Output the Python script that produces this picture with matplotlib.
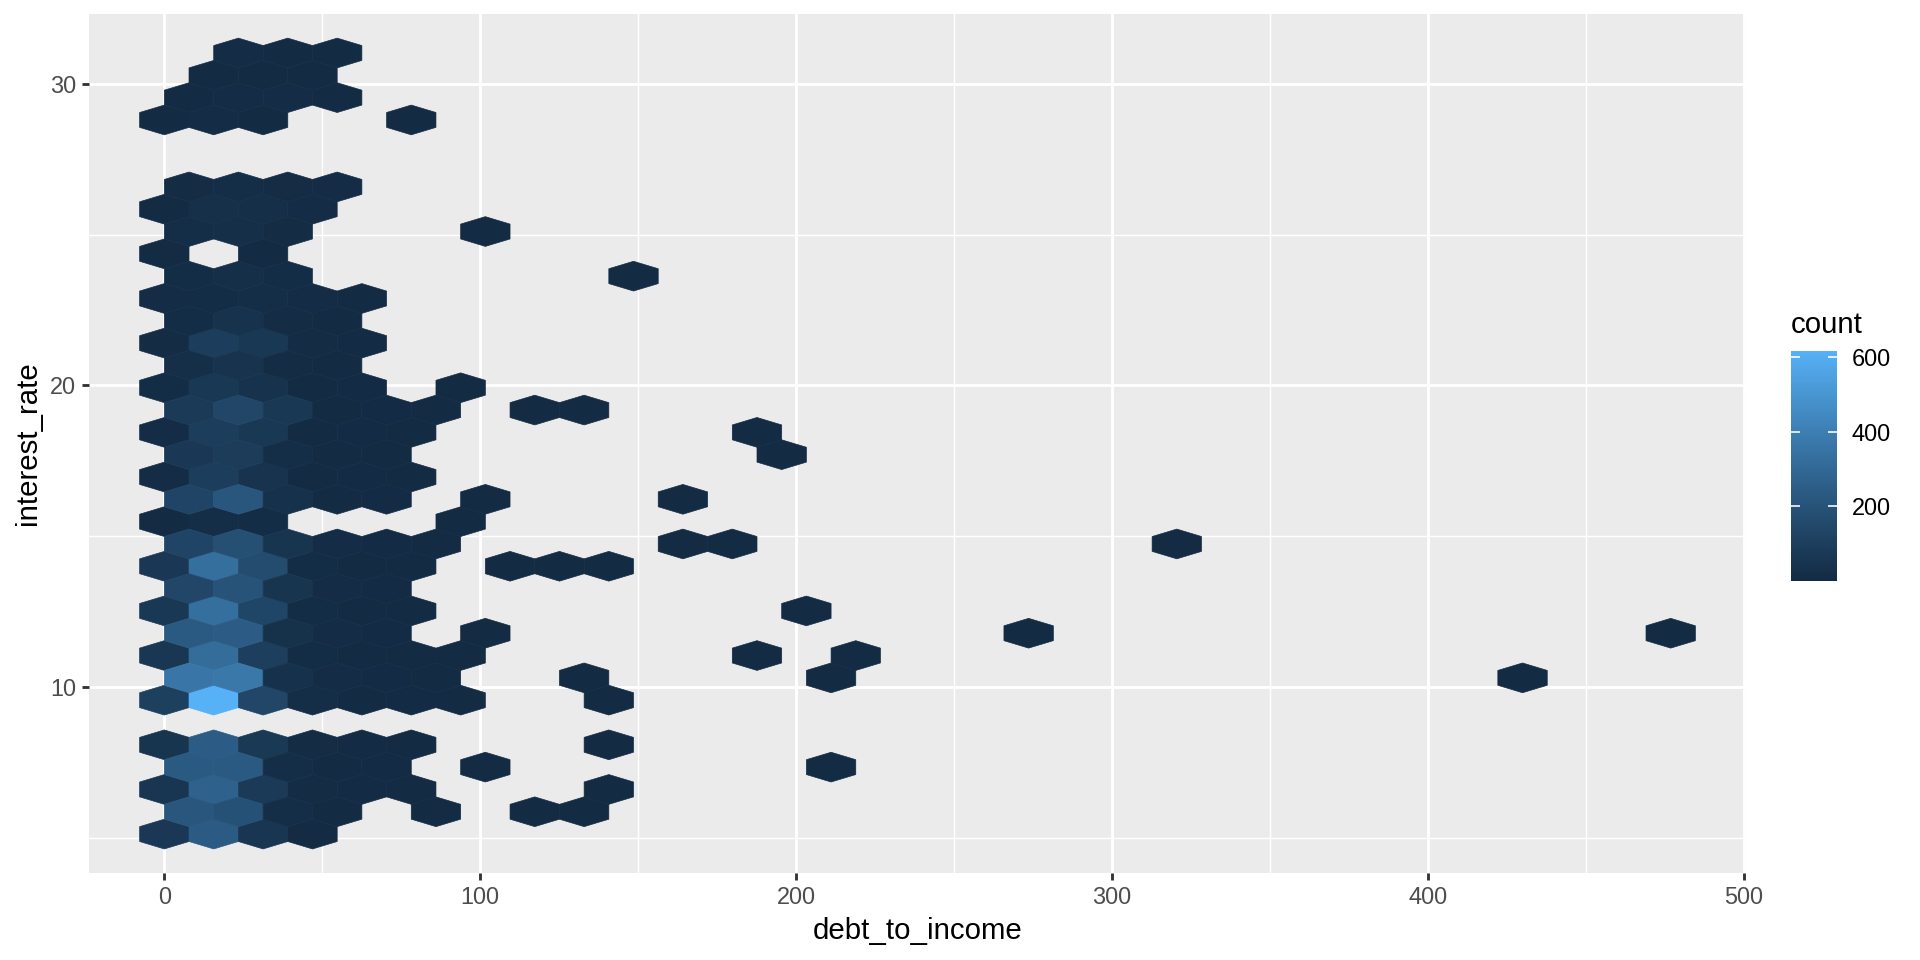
import numpy as np
import matplotlib
matplotlib.use("Agg")
import matplotlib.pyplot as plt
from matplotlib.colors import ListedColormap

plt.rcParams['font.family'] = ['Liberation Sans', 'DejaVu Sans']

# ---------------- data: hexagon centres (debt_to_income, interest_rate) and counts
row_rate = [5.13, 5.87, 6.61, 7.35, 8.09, 9.57, 10.31, 11.05, 11.79, 12.53, 13.27,
            14.01, 14.75, 15.49, 16.22, 16.96, 17.70, 18.44, 19.18, 19.92, 20.66,
            21.40, 22.14, 22.88, 23.62, 24.36, 25.10, 25.84, 26.58, 28.80, 29.54,
            30.28, 31.02]
row_dti = [
    [0, 15.6, 31.3, 46.9],
    [7.8, 23.5, 39.1, 54.7, 86.0, 117.3, 132.9],
    [0, 15.6, 31.3, 46.9, 62.5, 78.2, 140.7],
    [7.8, 23.5, 39.1, 54.7, 70.4, 101.6, 211.1],
    [0, 15.6, 31.3, 46.9, 62.5, 78.2, 140.7],
    [0, 15.6, 31.3, 46.9, 62.5, 78.2, 93.8, 140.7],
    [7.8, 23.5, 39.1, 54.7, 70.4, 86.0, 132.9, 211.1, 430.0],
    [0, 15.6, 31.3, 46.9, 62.5, 78.2, 93.8, 187.6, 218.9],
    [7.8, 23.5, 39.1, 54.7, 70.4, 101.6, 273.6, 476.9],
    [0, 15.6, 31.3, 46.9, 62.5, 78.2, 203.3],
    [7.8, 23.5, 39.1, 54.7, 70.4],
    [0, 15.6, 31.3, 46.9, 62.5, 78.2, 109.5, 125.1, 140.7],
    [7.8, 23.5, 39.1, 54.7, 70.4, 86.0, 164.2, 179.8, 320.5],
    [0, 15.6, 31.3, 93.8],
    [7.8, 23.5, 39.1, 54.7, 70.4, 101.6, 164.2],
    [0, 15.6, 31.3, 46.9, 62.5, 78.2],
    [7.8, 23.5, 39.1, 54.7, 70.4, 195.5],
    [0, 15.6, 31.3, 46.9, 62.5, 78.2, 187.6],
    [7.8, 23.5, 39.1, 54.7, 70.4, 86.0, 117.3, 132.9],
    [0, 15.6, 31.3, 46.9, 62.5, 93.8],
    [7.8, 23.5, 39.1, 54.7],
    [0, 15.6, 31.3, 46.9, 62.5],
    [7.8, 23.5, 39.1, 54.7],
    [0, 15.6, 31.3, 46.9, 62.5],
    [7.8, 23.5, 39.1, 148.5],
    [0, 31.3],
    [7.8, 23.5, 39.1, 101.6],
    [0, 15.6, 31.3, 46.9],
    [7.8, 23.5, 39.1, 54.7],
    [0, 15.6, 31.3, 78.2],
    [7.8, 23.5, 39.1, 54.7],
    [15.6, 31.3, 46.9],
    [23.5, 39.1, 54.7],
]
row_count = [
    [70, 235, 56, 8],
    [217, 190, 20, 6, 1, 1, 1],
    [58, 268, 79, 12, 5, 3, 1],
    [231, 228, 20, 8, 4, 1, 1],
    [52, 245, 72, 12, 5, 3, 1],
    [107, 617, 140, 16, 7, 4, 2, 1],
    [360, 370, 33, 10, 5, 2, 1, 1, 1],
    [60, 318, 102, 14, 6, 3, 2, 1, 1],
    [231, 245, 30, 9, 4, 1, 1, 1],
    [68, 330, 138, 14, 6, 3, 1],
    [140, 200, 52, 9, 4],
    [70, 330, 168, 15, 7, 3, 1, 1, 1],
    [130, 180, 52, 9, 5, 2, 1, 1, 1],
    [3, 20, 15, 1],
    [130, 217, 33, 8, 4, 1, 1],
    [10, 95, 42, 8, 4, 2],
    [70, 90, 20, 6, 3, 1],
    [10, 94, 66, 8, 4, 2, 1],
    [80, 140, 66, 8, 4, 2, 1, 1],
    [14, 68, 40, 8, 4, 1],
    [22, 42, 12, 6],
    [12, 94, 68, 12, 5],
    [15, 40, 12, 8],
    [10, 14, 16, 10, 6],
    [15, 24, 14, 1],
    [8, 3],
    [17, 25, 11, 1],
    [6, 28, 24, 9],
    [12, 20, 12, 9],
    [6, 10, 8, 1],
    [6, 10, 10, 8],
    [6, 8, 8],
    [10, 6, 8],
]
x_breaks = [0, 100, 200, 300, 400, 500]
y_breaks = [10, 20, 30]
legend_breaks = [200, 400, 600]

# hex grid used by the binning (ggplot2 geom_hex, bins = 30)
BIN_W = 469.09 / 30
BIN_H = (30.94 - 5.31) / 30
ROW_DY = BIN_H * np.sqrt(3) / 2
Y0 = 5.126
NX, NY = 31, 18

dti = np.concatenate([np.asarray(r, float) for r in row_dti])
rate = np.concatenate([np.full(len(r), v) for r, v in zip(row_dti, row_rate)])
count = np.concatenate([np.asarray(c, float) for c in row_count])
cmin, cmax = 1, 617

# ---------------- ggplot default gradient (#132B43 -> #56B1F7) interpolated in CIELAB
_M = np.array([[0.4124564, 0.3575761, 0.1804375],
               [0.2126729, 0.7151522, 0.0721750],
               [0.0193339, 0.1191920, 0.9503041]])
_WHITE = np.array([0.95047, 1.0, 1.08883])
_D = 6 / 29


def hex_to_lab(h):
    rgb = np.array([int(h[i:i + 2], 16) / 255 for i in (1, 3, 5)])
    lin = np.where(rgb <= 0.04045, rgb / 12.92, ((rgb + 0.055) / 1.055) ** 2.4)
    xyz = _M @ lin / _WHITE
    f = np.where(xyz > _D ** 3, np.cbrt(xyz), xyz / (3 * _D ** 2) + 4 / 29)
    return np.array([116 * f[1] - 16, 500 * (f[0] - f[1]), 200 * (f[1] - f[2])])


def lab_to_rgb(lab):
    L, a, b = lab
    fy = (L + 16) / 116
    f = np.array([fy + a / 500, fy, fy - b / 200])
    xyz = np.where(f > _D, f ** 3, 3 * _D ** 2 * (f - 4 / 29)) * _WHITE
    lin = np.linalg.solve(_M, xyz)
    lin = np.clip(lin, 0, 1)
    rgb = np.where(lin <= 0.0031308, 12.92 * lin, 1.055 * lin ** (1 / 2.4) - 0.055)
    return np.clip(rgb, 0, 1)


lo, hi = hex_to_lab('#132B43'), hex_to_lab('#56B1F7')
cmap = ListedColormap([lab_to_rgb(lo + t * (hi - lo)) for t in np.linspace(0, 1, 256)])

# ---------------- figure
fig = plt.figure(figsize=(10, 5), dpi=192)
fig.patch.set_facecolor('white')
ax = fig.add_axes([89 / 1920, 1 - 873 / 960, (1746 - 89) / 1920, (873 - 14) / 960])
ax.set_facecolor('#EBEBEB')

hb = ax.hexbin(dti, rate, C=count, reduce_C_function=np.sum,
               gridsize=(NX, NY),
               extent=(0, NX * BIN_W, Y0, Y0 + NY * 2 * ROW_DY),
               cmap=cmap, vmin=cmin, vmax=cmax,
               linewidths=0.25, edgecolors='face', zorder=2)

xr = (min(0, dti.min()), max(469.09, dti.max()))
yr = (min(5.31, rate.min()), max(30.94, rate.max()))
ax.set_xlim(xr[0] - 0.05 * (xr[1] - xr[0]), xr[1] + 0.05 * (xr[1] - xr[0]))
ax.set_ylim(yr[0] - 0.05 * (yr[1] - yr[0]), yr[1] + 0.05 * (yr[1] - yr[0]))

ax.set_xticks(x_breaks)
ax.set_xticks([50, 150, 250, 350, 450], minor=True)
ax.set_yticks(y_breaks)
ax.set_yticks([5, 15, 25], minor=True)
ax.grid(which='major', color='white', linewidth=1.07, zorder=1)
ax.grid(which='minor', color='white', linewidth=0.53, zorder=1)
ax.set_axisbelow(True)
for s in ax.spines.values():
    s.set_visible(False)
ax.tick_params(which='major', length=2.75, width=1.07, color='#333333',
               labelcolor='#4D4D4D', labelsize=8.8, pad=2.2)
ax.tick_params(which='minor', length=0)
ax.set_xlabel('debt_to_income', fontsize=11, color='black', labelpad=2.75)
ax.set_ylabel('interest_rate', fontsize=11, color='black', labelpad=2.75)

# ---------------- colour bar legend
cax = fig.add_axes([1791 / 1920, 1 - 580.7 / 960, 45.7 / 1920, 229.7 / 960])
cb = fig.colorbar(hb, cax=cax, ticks=legend_breaks)
cb.outline.set_visible(False)
cax.tick_params(axis='y', direction='in', length=3.4, width=0.6, color='white',
                left=True, right=True, labelleft=False, labelright=True,
                labelsize=8.8, labelcolor='black', pad=5.6)
fig.text(1791 / 1920, 1 - 332.7 / 960, 'count', fontsize=11, ha='left', va='baseline')

fig.savefig('out.png', dpi=192)
